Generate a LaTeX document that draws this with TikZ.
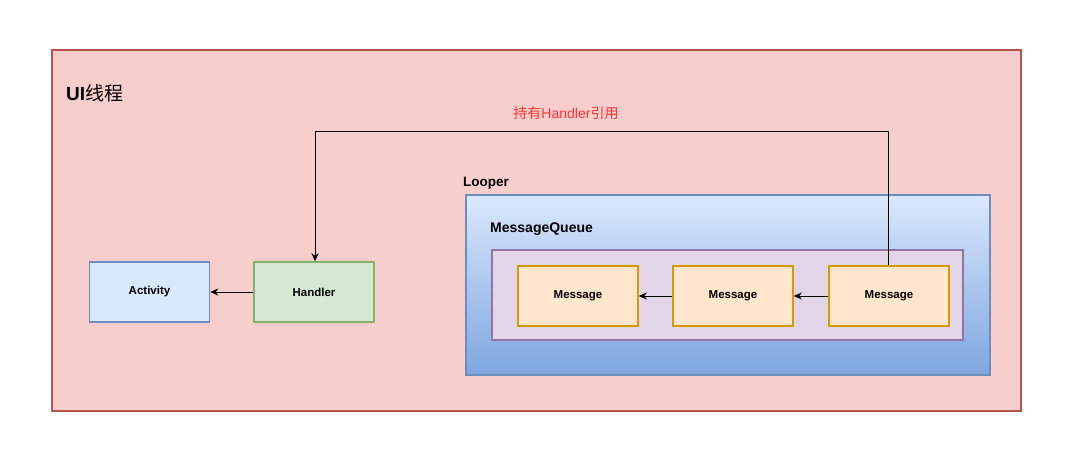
\documentclass[tikz,border=0pt]{standalone}
\usepackage{fontspec}
\setmainfont{Liberation Sans}
\newfontfamily\cjk{Noto Sans CJK SC}
\usetikzlibrary{arrows.meta}
\definecolor{outerfill}{HTML}{F8CECC}
\definecolor{outerdraw}{HTML}{B85450}
\definecolor{bluefill}{HTML}{DAE8FC}
\definecolor{bluedark}{HTML}{7EA6E0}
\definecolor{bluedraw}{HTML}{6C8EBF}
\definecolor{purpfill}{HTML}{E1D5E7}
\definecolor{purpdraw}{HTML}{9673A6}
\definecolor{orfill}{HTML}{FFE6CC}
\definecolor{ordraw}{HTML}{D79B00}
\definecolor{grfill}{HTML}{D5E8D4}
\definecolor{grdraw}{HTML}{82B366}
\definecolor{redtxt}{HTML}{FF3333}
\tikzset{
  box/.style={draw, line width=1.5pt, minimum width=120pt, minimum height=60pt, inner sep=0pt,
     font=\fontsize{11.5}{13}\selectfont\bfseries},
  msgbox/.style={box, fill=orfill, draw=ordraw},
  conn/.style={draw=black, line width=0.9pt, -{Stealth[length=8pt,width=7pt,inset=2.5pt]}},
  lbl/.style={anchor=west, inner sep=0pt, font=\fontsize{14}{16}\selectfont\bfseries},
}
\begin{document}
\begin{tikzpicture}[x=1pt,y=-1pt]
\useasboundingbox[fill=white] (0,0) rectangle (1072,462);
% outer
\node[draw=outerdraw, fill=outerfill, line width=1.3pt, minimum width=969pt, minimum height=361pt, inner sep=0pt] (ui) at (536.5,230.5) {};
\node[anchor=west, inner sep=0pt] (uilbl) at (66,93) {\fontsize{19}{21}\selectfont\bfseries UI\cjk\mdseries 线程};
% looper
\node[lbl, font=\fontsize{13.5}{15}\selectfont\bfseries] (looperlbl) at (463,183) {Looper};
\node[draw=bluedraw, top color=bluefill, bottom color=bluedark, line width=1.5pt, minimum width=524pt, minimum height=180pt, inner sep=0pt] (looper) at (728,285) {};
\node[lbl] (mqlbl) at (490,229) {MessageQueue};
\node[draw=purpdraw, fill=purpfill, line width=1.5pt, minimum width=471pt, minimum height=90pt, inner sep=0pt] (mq) at (727.5,295) {};
% messages
\node[msgbox] (m1) at (578,296) {Message};
\node[msgbox] (m2) at (733,296) {Message};
\node[msgbox] (m3) at (889,296) {Message};
% activity / handler
\node[box, fill=bluefill, draw=bluedraw] (act) at (149.5,292) {Activity};
\node[box, fill=grfill, draw=grdraw] (hand) at (314,292) {Handler};
% connectors
\draw[conn] (hand.west) -- (act.east);
\draw[conn] (m3.west) -- (m2.east);
\draw[conn] (m2.west) -- (m1.east);
\coordinate (c1) at (888,131);
\coordinate (c2) at (315,131);
\draw[conn] (m3.north -| c1) -- (c1) -- (c2) -- (hand.north -| c2);
\node[text=redtxt, font=\fontsize{14}{16}\selectfont] (reflbl) at (566,113) {\cjk 持有\rmfamily Handler\cjk 引用};
\end{tikzpicture}
\end{document}
